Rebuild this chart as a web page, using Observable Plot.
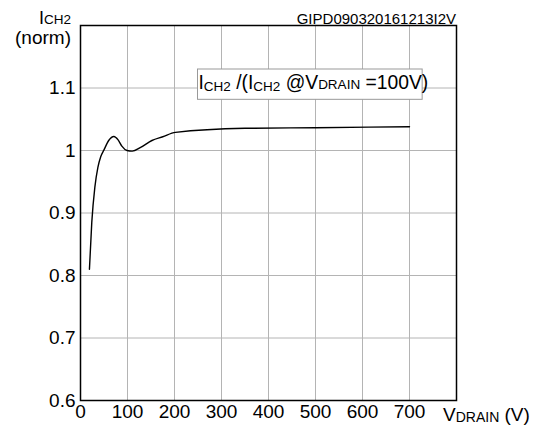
<!DOCTYPE html>
<html>
<head>
<meta charset="utf-8">
<script src="https://cdn.jsdelivr.net/npm/d3@7"></script>
<script src="https://cdn.jsdelivr.net/npm/@observablehq/plot@0.6"></script>
<style>
  html, body { margin: 0; padding: 0; background: #fff; }
  svg { display: block; }
</style>
</head>
<body>
<div id="chart"></div>
<script>
// Data
const vDrain = [19, 24, 30.5, 37, 43, 50, 60, 71, 80, 88, 99, 110, 128, 152, 175, 202, 350, 500, 700];
const iCh2Norm = [0.81, 0.885, 0.941, 0.973, 0.99, 1.001, 1.016, 1.0224, 1.017, 1.007, 1.0, 0.999, 1.005, 1.016, 1.022, 1.029, 1.0355, 1.0365, 1.038];
const xTicks = [0, 100, 200, 300, 400, 500, 600, 700];
const yTicks = [0.6, 0.7, 0.8, 0.9, 1.0, 1.1];
const xDomain = [0, 800];
const yDomain = [0.6, 1.2];
// annotation box (data coordinates): [x left, x right, y top, y bottom]
const noteBox = [250, 728, 1.1296, 1.0811];
const noteText = [252, 1.0976];

const data = vDrain.map((v, i) => ({v, i: iCh2Norm[i]}));
const FONT = "'Liberation Sans', Arial, sans-serif";

const plot = Plot.plot({
  width: 541,
  height: 428,
  marginLeft: 80,
  marginTop: 25,
  marginRight: 85,
  marginBottom: 28,
  style: {fontFamily: FONT, fontSize: "19px", color: "#000", background: "#fff"},
  x: {domain: xDomain, label: null},
  y: {domain: yDomain, label: null},
  marks: [
    Plot.gridX(xTicks, {stroke: "#b4b4b4", strokeOpacity: 1, strokeWidth: 1}),
    Plot.gridY(yTicks, {stroke: "#b4b4b4", strokeOpacity: 1, strokeWidth: 1}),
    Plot.axisX(xTicks, {tickSize: 0, tickPadding: 4, fontSize: 19, tickFormat: d => String(d), label: null}),
    Plot.axisY(yTicks, {tickSize: 0, tickPadding: 5, fontSize: 19, tickFormat: d => d === 1 ? "1" : d3.format(".1f")(d), label: null}),
    Plot.line(data, {x: "v", y: "i", stroke: "#000", strokeWidth: 1.4, curve: "monotone-x"}),
    Plot.rect([noteBox], {x1: d => d[0], x2: d => d[1], y1: d => d[2], y2: d => d[3], fill: "#fff", stroke: "#999", strokeWidth: 1}),
    Plot.frame({stroke: "#000", strokeWidth: 1.5})
  ]
});

const sx = plot.scale("x"), sy = plot.scale("y");
const svg = d3.select(plot);

function addText(x, y, anchor, parts) {
  const t = svg.append("text")
    .attr("x", x).attr("y", y)
    .attr("text-anchor", anchor)
    .attr("font-family", FONT)
    .attr("fill", "#000");
  parts.forEach(p => {
    const s = t.append("tspan").attr("font-size", p.size).text(p.text);
    if (p.dy) s.attr("dy", p.dy);
  });
  return t;
}

// annotation text
addText(sx.apply(noteText[0]), sy.apply(noteText[1]), "start", [
  {text: "I", size: 19.3},
  {text: "CH2", size: 13.5, dy: 2},
  {text: " /(I", size: 19.3, dy: -2},
  {text: "CH2", size: 13.5, dy: 2},
  {text: " @V", size: 19.3, dy: -2},
  {text: "DRAIN", size: 13.5},
  {text: " =100V)", size: 19.3}
]);

// y axis title
addText(71, 24, "end", [
  {text: "I", size: 18},
  {text: "CH2", size: 13.5}
]);
addText(71, 44, "end", [{text: "(norm)", size: 19}]);

// x axis title
addText(443, 421, "start", [
  {text: "V", size: 19},
  {text: "DRAIN", size: 14, dy: 1},
  {text: " (V)", size: 19, dy: -1}
]);

// figure code
addText(456, 24, "end", [{text: "GIPD090320161213I2V", size: 15}]);

document.getElementById("chart").appendChild(plot);
</script>
</body>
</html>
